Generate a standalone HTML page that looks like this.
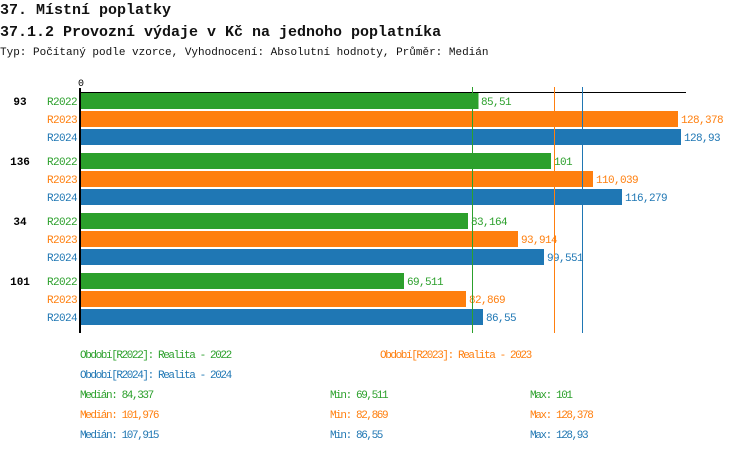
<!DOCTYPE html>
<html><head><meta charset="utf-8"><style>
html,body{margin:0;padding:0;background:#fff;}
svg{display:block;font-family:"Liberation Mono",monospace;}
</style></head><body>
<svg width="750" height="452" xmlns="http://www.w3.org/2000/svg">
<text x="0" y="14" font-size="15" font-weight="bold" fill="#111">37. Místní poplatky</text>
<text x="0" y="36" font-size="15" font-weight="bold" fill="#111">37.1.2 Provozní výdaje v Kč na jednoho poplatníka</text>
<text x="0" y="55" font-size="11" fill="#111">Typ: Počítaný podle vzorce, Vyhodnocení: Absolutní hodnoty, Průměr: Medián</text>
<text x="78" y="86" font-size="10" fill="#000">0</text>
<line x1="80" y1="92.5" x2="686" y2="92.5" stroke="#000" stroke-width="1"/>
<line x1="80" y1="88" x2="80" y2="333" stroke="#000" stroke-width="2"/>
<g font-size="11" letter-spacing="-0.6">
<text x="20" y="105" font-weight="bold" letter-spacing="0" text-anchor="middle" fill="#000">93</text>
<text x="77" y="105" text-anchor="end" fill="#2ca02c">R2022</text>
<text x="77" y="123" text-anchor="end" fill="#ff7f0e">R2023</text>
<text x="77" y="141" text-anchor="end" fill="#1f77b4">R2024</text>
<rect x="81" y="93" width="397.5" height="16" fill="#2ca02c"/>
<rect x="81" y="111" width="597" height="16" fill="#ff7f0e"/>
<rect x="81" y="129" width="600" height="16" fill="#1f77b4"/>
<text x="481" y="105" fill="#2ca02c">85,51</text>
<text x="681" y="123" fill="#ff7f0e">128,378</text>
<text x="684" y="141" fill="#1f77b4">128,93</text>
<text x="20" y="165" font-weight="bold" letter-spacing="0" text-anchor="middle" fill="#000">136</text>
<text x="77" y="165" text-anchor="end" fill="#2ca02c">R2022</text>
<text x="77" y="183" text-anchor="end" fill="#ff7f0e">R2023</text>
<text x="77" y="201" text-anchor="end" fill="#1f77b4">R2024</text>
<rect x="81" y="153" width="470" height="16" fill="#2ca02c"/>
<rect x="81" y="171" width="512" height="16" fill="#ff7f0e"/>
<rect x="81" y="189" width="541" height="16" fill="#1f77b4"/>
<text x="554" y="165" fill="#2ca02c">101</text>
<text x="596" y="183" fill="#ff7f0e">110,039</text>
<text x="625" y="201" fill="#1f77b4">116,279</text>
<text x="20" y="225" font-weight="bold" letter-spacing="0" text-anchor="middle" fill="#000">34</text>
<text x="77" y="225" text-anchor="end" fill="#2ca02c">R2022</text>
<text x="77" y="243" text-anchor="end" fill="#ff7f0e">R2023</text>
<text x="77" y="261" text-anchor="end" fill="#1f77b4">R2024</text>
<rect x="81" y="213" width="387" height="16" fill="#2ca02c"/>
<rect x="81" y="231" width="437" height="16" fill="#ff7f0e"/>
<rect x="81" y="249" width="463" height="16" fill="#1f77b4"/>
<text x="471" y="225" fill="#2ca02c">83,164</text>
<text x="521" y="243" fill="#ff7f0e">93,914</text>
<text x="547" y="261" fill="#1f77b4">99,551</text>
<text x="20" y="285" font-weight="bold" letter-spacing="0" text-anchor="middle" fill="#000">101</text>
<text x="77" y="285" text-anchor="end" fill="#2ca02c">R2022</text>
<text x="77" y="303" text-anchor="end" fill="#ff7f0e">R2023</text>
<text x="77" y="321" text-anchor="end" fill="#1f77b4">R2024</text>
<rect x="81" y="273" width="323" height="16" fill="#2ca02c"/>
<rect x="81" y="291" width="385" height="16" fill="#ff7f0e"/>
<rect x="81" y="309" width="402" height="16" fill="#1f77b4"/>
<text x="407" y="285" fill="#2ca02c">69,511</text>
<text x="469" y="303" fill="#ff7f0e">82,869</text>
<text x="486" y="321" fill="#1f77b4">86,55</text>
</g>
<line x1="472.5" y1="87" x2="472.5" y2="333" stroke="#2ca02c" stroke-width="1"/>
<line x1="554.5" y1="87" x2="554.5" y2="333" stroke="#ff7f0e" stroke-width="1"/>
<line x1="582.5" y1="87" x2="582.5" y2="333" stroke="#1f77b4" stroke-width="1"/>
<g font-size="11" letter-spacing="-1.4">
<text x="80" y="358" fill="#2ca02c">Období[R2022]: Realita - 2022</text>
<text x="380" y="358" fill="#ff7f0e">Období[R2023]: Realita - 2023</text>
<text x="80" y="378" fill="#1f77b4">Období[R2024]: Realita - 2024</text>
<text x="80" y="398" fill="#2ca02c">Medián: 84,337</text>
<text x="330" y="398" fill="#2ca02c">Min: 69,511</text>
<text x="530" y="398" fill="#2ca02c">Max: 101</text>
<text x="80" y="418" fill="#ff7f0e">Medián: 101,976</text>
<text x="330" y="418" fill="#ff7f0e">Min: 82,869</text>
<text x="530" y="418" fill="#ff7f0e">Max: 128,378</text>
<text x="80" y="438" fill="#1f77b4">Medián: 107,915</text>
<text x="330" y="438" fill="#1f77b4">Min: 86,55</text>
<text x="530" y="438" fill="#1f77b4">Max: 128,93</text>
</g>
</svg>
</body></html>
